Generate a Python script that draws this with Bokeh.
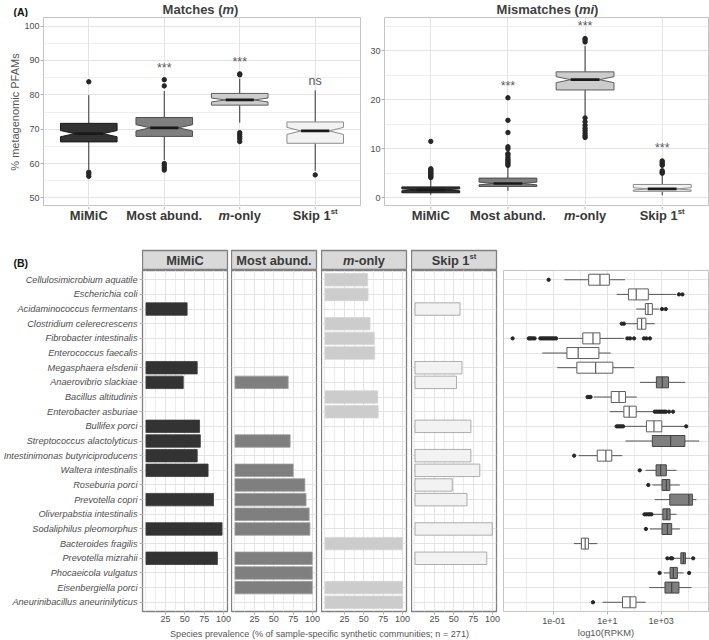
import math
from bokeh.plotting import figure
from bokeh.models import Range1d, FactorRange, FixedTicker, Spacer
from bokeh.layouts import row, column
from bokeh.core.properties import value
from bokeh.embed import file_html
from bokeh.resources import INLINE

FONT = "Liberation Sans"

# ---------------- data: panel A ----------------
methods = ["MiMiC", "Most abund.", "m-only", "Skip 1st"]

# Matches (m): % metagenomic PFAMs
match_wlo = [58.3, 61.0, 71.9, 57.9]
match_q1 = [66.3, 67.9, 77.0, 65.9]
match_med = [68.7, 70.4, 78.5, 69.5]
match_q3 = [71.7, 73.4, 80.4, 72.1]
match_whi = [79.9, 81.1, 84.7, 81.3]
match_out = [[83.8, 57.5, 57.0, 56.3],
             [82.6, 84.4, 60.0, 59.4, 58.7, 58.1],
             [85.8, 86.1, 69.0, 68.4, 67.8, 67.2, 66.4],
             [56.7]]
match_sig = ["", "***", "***", "ns"]
match_sig_y = [None, 87.9, 89.6, 83.9]

# Mismatches (mi)
mis_wlo = [0.6, 1.4, 16.8, 0.5]
mis_q1 = [1.0, 2.3, 22.0, 1.3]
mis_med = [1.6, 2.9, 24.1, 1.8]
mis_q3 = [2.2, 4.0, 25.7, 2.7]
mis_whi = [3.9, 6.4, 31.0, 4.8]
mis_out = [[4.1, 4.3, 4.5, 4.7, 4.9, 5.1, 5.3, 5.5, 5.7, 5.9, 11.5],
           [6.6, 6.9, 7.2, 7.5, 7.8, 8.2, 8.7, 9.0, 10.0, 10.4, 13.3, 15.8, 20.4],
           [31.8, 32.2, 32.5, 16.3, 15.5, 14.8, 14.2, 13.7, 13.2, 12.7, 12.3],
           [5.0, 5.2, 5.5, 6.6, 6.9, 7.2, 7.5]]
mis_sig = ["", "***", "***", "***"]
mis_sig_y = [None, 22.8, 35.0, 10.1]

NOTCH_N = 90

# ---------------- data: panel B ----------------
species = [
    "Cellulosimicrobium aquatile", "Escherichia coli", "Acidaminococcus fermentans",
    "Clostridium celerecrescens", "Fibrobacter intestinalis", "Enterococcus faecalis",
    "Megasphaera elsdenii", "Anaerovibrio slackiae", "Bacillus altitudinis",
    "Enterobacter asburiae", "Bullifex porci", "Streptococcus alactolyticus",
    "Intestinimonas butyriciproducens", "Waltera intestinalis", "Roseburia porci",
    "Prevotella copri", "Oliverpabstia intestinalis", "Sodaliphilus pleomorphus",
    "Bacteroides fragilis", "Prevotella mizrahii", "Phocaeicola vulgatus",
    "Eisenbergiella porci", "Aneurinibacillus aneurinilyticus",
]

mimic_species = ["Acidaminococcus fermentans", "Megasphaera elsdenii", "Anaerovibrio slackiae",
                 "Bullifex porci", "Streptococcus alactolyticus", "Intestinimonas butyriciproducens",
                 "Waltera intestinalis", "Prevotella copri", "Sodaliphilus pleomorphus",
                 "Prevotella mizrahii"]
mimic_prev = [53, 66, 48, 69, 70, 66, 80, 87, 98, 92]

abund_species = ["Anaerovibrio slackiae", "Streptococcus alactolyticus", "Waltera intestinalis",
                 "Roseburia porci", "Prevotella copri", "Oliverpabstia intestinalis",
                 "Sodaliphilus pleomorphus", "Prevotella mizrahii", "Phocaeicola vulgatus",
                 "Eisenbergiella porci"]
abund_prev = [68.5, 71, 75, 90, 91.5, 95.5, 96.5, 99.5, 99.5, 99.5]

monly_species = ["Cellulosimicrobium aquatile", "Escherichia coli", "Clostridium celerecrescens",
                 "Fibrobacter intestinalis", "Enterococcus faecalis", "Bacillus altitudinis",
                 "Enterobacter asburiae", "Bacteroides fragilis", "Eisenbergiella porci",
                 "Aneurinibacillus aneurinilyticus"]
monly_prev = [55, 55.5, 58, 63.5, 64, 68, 68.5, 100, 100, 100]

skip_species = ["Acidaminococcus fermentans", "Megasphaera elsdenii", "Anaerovibrio slackiae",
                "Bullifex porci", "Intestinimonas butyriciproducens", "Waltera intestinalis",
                "Roseburia porci", "Prevotella copri", "Sodaliphilus pleomorphus",
                "Prevotella mizrahii"]
skip_prev = [58, 60.5, 53.5, 72, 72, 83.5, 48, 67, 99.5, 92.5]

# log10(RPKM) box statistics per species (same order as `species`)
rpkm_wlo = [-0.60, 1.34, 2.07, 1.67, -0.81, -1.43, -0.87, 2.21, 0.49, 1.09, 1.61, 1.67,
            -0.07, 2.42, 2.67, 2.76, 2.73, 2.58, -0.25, 3.48, 3.10, 2.55, 0.82]
rpkm_q1 = [0.30, 1.78, 2.41, 2.11, 0.08, -0.51, -0.14, 2.82, 1.14, 1.61, 2.45, 2.67,
           0.62, 2.81, 3.03, 3.32, 3.06, 3.03, 0.03, 3.73, 3.33, 3.14, 1.56]
rpkm_med = [0.72, 2.07, 2.51, 2.27, 0.46, -0.09, 0.56, 3.04, 1.43, 1.81, 2.73, 3.35,
            0.94, 2.98, 3.19, 4.03, 3.21, 3.23, 0.17, 3.83, 3.45, 3.39, 1.84]
rpkm_q3 = [1.07, 2.52, 2.67, 2.43, 0.72, 0.68, 1.20, 3.27, 1.67, 2.07, 3.02, 3.88,
           1.16, 3.19, 3.32, 4.16, 3.33, 3.39, 0.29, 3.90, 3.60, 3.66, 2.06]
rpkm_whi = [1.65, 3.55, 2.92, 2.76, 1.61, 1.12, 1.99, 3.89, 2.09, 2.73, 3.89, 4.41,
            1.55, 3.57, 3.69, 4.31, 3.57, 3.70, 0.62, 4.10, 3.83, 4.13, 2.42]
rpkm_out = [
    [-1.19],
    [3.66, 3.79],
    [3.03, 3.17],
    [1.53, 1.61],
    [-2.53, -1.93, -1.88, -1.83, -1.77, -1.71, -1.50, -1.45, -1.39, -1.33, -1.27, -1.21,
     -1.15, -1.09, -1.03, -0.97, -0.91, 1.74, 1.84, 1.99, 2.36, 2.45, 2.58],
    [],
    [],
    [],
    [0.26, 0.32, 0.37],
    [2.76, 2.82, 2.88, 2.94, 3.00, 3.06, 3.12, 3.17, 3.29, 3.44],
    [1.34, 1.40, 1.46, 1.52, 1.58, 3.93],
    [],
    [-0.24],
    [2.20],
    [2.52],
    [],
    [2.38, 2.45, 2.52, 2.58, 2.64],
    [2.43],
    [],
    [3.23, 3.36, 3.41, 4.19],
    [2.94, 4.04],
    [],
    [0.46],
]
rpkm_ticks = [-1, 1, 3]
rpkm_tick_labels = ["1e-01", "1e+1", "1e+03"]

# ---------------- styles ----------------
FILLS = ["#333333", "#7f7f7f", "#cccccc", "#f2f2f2"]
BOX_LINES = ["#1a1a1a", "#4d4d4d", "#5e5e5e", "#8c8c8c"]
BAR_LINES = ["#3a3a3a", "#9a9a9a", "#d4d4d4", "#9a9a9a"]
TXT = "#4d4d4d"

BOLD_W = {"M": .833, "a": .556, "t": .333, "c": .556, "h": .611, "e": .556, "s": .556,
          " ": .278, "(": .333, ")": .333, "i": .278, "m": .889, "o": .611, "n": .611,
          "l": .278, "y": .556, "-": .333, "S": .667, "k": .556, "p": .611, "1": .556,
          "C": .722, "b": .611, "u": .611, "d": .611, ".": .278}


def tw(s, size):
    return sum(BOLD_W.get(ch, .556) for ch in s) * size


def rich(p, x, y, pieces, size, color):
    """Centered multi-style text; pieces: (text, style, scale, raise_in_y_units)."""
    total = sum(tw(t, size * sc) for t, st, sc, r in pieces)
    off = -total / 2.0
    for t, st, sc, r in pieces:
        p.text(x=[x], y=[y + r], text=[t], x_offset=off, text_font=value(FONT),
               text_font_size=value(f"{size * sc:.2f}px"), text_font_style=value(st),
               text_align="left", text_baseline="middle", text_color=color)
        off += tw(t, size * sc)


def plain_fig(w, h, xr=None, yr=None, left=0, right=0, top=0, bottom=0, bg=None):
    p = figure(frame_width=w, frame_height=h, min_border_left=left, min_border_right=right,
               min_border_top=top, min_border_bottom=bottom,
               x_range=xr if xr is not None else Range1d(0, w),
               y_range=yr if yr is not None else Range1d(0, h),
               x_axis_location=None, y_axis_location=None,
               output_backend="svg", toolbar_location=None)
    p.grid.visible = False
    p.outline_line_color = None
    p.background_fill_color = bg
    p.border_fill_color = None
    return p


method_pieces = [
    [("MiMiC", "bold", 1, 0)],
    [("Most abund.", "bold", 1, 0)],
    [("m", "bold italic", 1, 0), ("-only", "bold", 1, 0)],
    [("Skip 1", "bold", 1, 0), ("st", "bold", 0.6, 3.9)],
]


def style_axes(p):
    p.axis.axis_line_color = None
    p.axis.major_tick_line_color = "#b3b3b3"
    p.axis.major_tick_out = 3
    p.axis.major_tick_in = 0
    p.axis.minor_tick_out = 0
    p.axis.minor_tick_in = 0
    p.axis.major_label_text_font = FONT
    p.axis.major_label_text_font_size = "9px"
    p.axis.major_label_text_color = TXT
    p.axis.axis_label_text_font = FONT
    p.axis.axis_label_text_font_style = "normal"
    p.axis.axis_label_text_color = "#555555"
    p.grid.grid_line_color = "#e3e3e3"
    p.grid.grid_line_width = 1
    p.background_fill_color = "white"
    p.border_fill_color = "white"


A_FH = 189


def a_panel(wlo, q1, med, q3, whi, outs, sig, sig_y, yr, yticks, yminor,
            left, right, fw, ylabel=None):
    p = figure(frame_width=fw, frame_height=A_FH, min_border_left=left, min_border_right=right,
               min_border_top=0, min_border_bottom=0, x_range=Range1d(0.4, 4.6),
               y_range=Range1d(*yr), x_axis_location=None,
               output_backend="svg", toolbar_location=None)
    style_axes(p)
    p.outline_line_color = "#c4c4c4"
    p.outline_line_width = 1
    p.xgrid.ticker = FixedTicker(ticks=[1, 2, 3, 4])
    p.xgrid.grid_line_color = "#e3e3e3"
    p.yaxis.ticker = FixedTicker(ticks=yticks, minor_ticks=yminor)
    p.yaxis.major_label_standoff = 1
    p.ygrid.minor_grid_line_color = "#eeeeee"
    if ylabel:
        p.yaxis.axis_label = ylabel
        p.yaxis.axis_label_text_font_size = "11px"
        p.yaxis.axis_label_standoff = 0

    pos = [1, 2, 3, 4]
    bw = 0.375
    nw = bw * 0.5
    xs, ys = [], []
    for c, a, b, m in zip(pos, q1, q3, med):
        nh = 1.58 * (b - a) / math.sqrt(NOTCH_N)
        xs.append([c - bw, c - bw, c - nw, c - bw, c - bw, c + bw, c + bw, c + nw, c + bw, c + bw])
        ys.append([a, m - nh, m, m + nh, b, b, m + nh, m, m - nh, a])
    p.segment(x0=pos, y0=q3, x1=pos, y1=whi, line_color="#333333", line_width=1)
    p.segment(x0=pos, y0=q1, x1=pos, y1=wlo, line_color="#333333", line_width=1)
    p.patches(xs=xs, ys=ys, fill_color=FILLS, line_color=BOX_LINES, line_width=1)
    p.segment(x0=[c - nw for c in pos], y0=med, x1=[c + nw for c in pos], y1=med,
              line_color="#1a1a1a", line_width=2.7)
    ox = [c for c, o in zip(pos, outs) for _ in o]
    oy = [v for o in outs for v in o]
    p.scatter(x=ox, y=oy, size=4.4, color="#262626")

    sx = [c for c, s in zip(pos, sig) if s]
    st = [s for s in sig if s]
    sy = [y for s, y in zip(sig, sig_y) if s]
    p.text(x=sx, y=sy, text=st, text_font=value(FONT), text_font_size=value("12.5px"),
           text_align="center", text_baseline="middle", text_color="#595959")
    return p


# ---- panel A layout: left 0-366 (frame 43-360), right 366-709 (frame 384-708)
pA1 = a_panel(match_wlo, match_q1, match_med, match_q3, match_whi, match_out,
              match_sig, match_sig_y, (47.5, 102.5), [50, 60, 70, 80, 90, 100],
              [55, 65, 75, 85, 95], 43, 6, 317, ylabel="% metagenomic PFAMs")
pA2 = a_panel(mis_wlo, mis_q1, mis_med, mis_q3, mis_whi, mis_out,
              mis_sig, mis_sig_y, (-1.8, 36.8), [0, 10, 20, 30], [5, 15, 25, 35],
              18, 1, 324)

hA1 = plain_fig(366, 17)
hA1.text(x=[13], y=[6], text=["(A)"], text_font=value(FONT), text_font_size=value("10.5px"),
         text_font_style=value("bold"), text_align="left", text_baseline="middle",
         text_color="#111111")
rich(hA1, 200, 8.3, [("Matches (", "bold", 1, 0), ("m", "bold italic", 1, 0), (")", "bold", 1, 0)],
     13, "#404040")
hA2 = plain_fig(343, 17)
rich(hA2, 181, 8.3, [("Mismatches (", "bold", 1, 0), ("mi", "bold italic", 1, 0), (")", "bold", 1, 0)],
     13, "#404040")

LA_H = 24
lA1 = plain_fig(317, LA_H, xr=pA1.x_range, left=43, right=6)
lA2 = plain_fig(324, LA_H, xr=pA2.x_range, left=18, right=1)
for lf in (lA1, lA2):
    # axis tick marks below the panel, at the category positions
    lf.segment(x0=[1, 2, 3, 4], y0=LA_H, x1=[1, 2, 3, 4], y1=LA_H - 3,
               line_color="#b3b3b3", line_width=1)
    for c, pcs in zip([1, 2, 3, 4], method_pieces):
        rich(lf, c, 14.7, pcs, 12.9, "#383838")

# ---------------- panel B ----------------
yr_sp = FactorRange(factors=list(reversed(species)), range_padding=0.13,
                    range_padding_units="absolute")

facet_species = [mimic_species, abund_species, monly_species, skip_species]
facet_vals = [mimic_prev, abund_prev, monly_prev, skip_prev]
lefts = [142, 0, 0, 0]
rights = [4, 5, 5, 7]
FW = 85
F_FH = 341

hB = plain_fig(142, 20, top=20)
hB.text(x=[13], y=[8], text=["(B)"], text_font=value(FONT), text_font_size=value("10.5px"),
        text_font_style=value("bold"), text_align="left", text_baseline="middle",
        text_color="#111111")

strips = [hB]
facets = []
for k in range(4):
    s = plain_fig(FW, 20, right=rights[k], top=20, bg="#d9d9d9")
    s.outline_line_color = "#808080"
    s.outline_line_width = 1.3
    rich(s, FW / 2.0, 10, method_pieces[k], 12.8, "#3a3a3a")
    strips.append(s)

    f = figure(frame_width=FW, frame_height=F_FH, min_border_left=lefts[k],
               min_border_right=rights[k], min_border_top=0, min_border_bottom=15,
               x_range=Range1d(-4.5, 105), y_range=yr_sp,
               y_axis_location="left" if k == 0 else None,
               output_backend="svg", toolbar_location=None)
    style_axes(f)
    f.outline_line_color = "#808080"
    f.outline_line_width = 1.3
    f.xaxis.ticker = FixedTicker(ticks=[25, 50, 75, 100], minor_ticks=[0, 12.5, 37.5, 62.5, 87.5])
    f.xaxis.major_label_standoff = 1
    f.xgrid.minor_grid_line_color = "#ececec"
    if k == 0:
        f.yaxis.major_label_text_font_style = "italic"
        f.yaxis.major_label_text_font_size = "9.2px"
        f.yaxis.major_label_standoff = 2
    f.hbar(y=facet_species[k], left=0, right=facet_vals[k], height=0.85,
           fill_color=FILLS[k], line_color=BAR_LINES[k], line_width=0.8)
    facets.append(f)

bottom = plain_fig(503, 14)
bottom.text(x=[319], y=[6.8], text=["Species prevalence (% of sample-specific synthetic communities; n = 271)"],
            text_font=value(FONT), text_font_size=value("9.1px"), text_align="center",
            text_baseline="middle", text_color="#555555")

# right box panel (frame 503-708)
r = figure(frame_width=205, frame_height=F_FH, min_border_left=0, min_border_right=1,
           min_border_top=0, min_border_bottom=29, x_range=Range1d(-2.87, 4.76),
           y_range=yr_sp, y_axis_location=None, output_backend="svg", toolbar_location=None)
style_axes(r)
r.outline_line_color = "#c4c4c4"
r.outline_line_width = 1
r.xaxis.ticker = FixedTicker(ticks=rpkm_ticks, minor_ticks=[-2, 0, 2, 4])
r.xaxis.major_label_overrides = dict(zip(rpkm_ticks, rpkm_tick_labels))
r.xaxis.major_label_standoff = 3
r.xaxis.axis_label = "log10(RPKM)"
r.xaxis.axis_label_text_font_size = "9.4px"
r.xaxis.axis_label_standoff = 0
r.xgrid.minor_grid_line_color = "#ececec"

box_fill = ["#7f7f7f" if s in abund_species else "white" for s in species]
box_line = ["#444444" if s in abund_species else "#5e5e5e" for s in species]
r.segment(x0=rpkm_wlo, y0=species, x1=rpkm_q1, y1=species, line_color="#555555", line_width=1)
r.segment(x0=rpkm_q3, y0=species, x1=rpkm_whi, y1=species, line_color="#555555", line_width=1)
r.hbar(y=species, left=rpkm_q1, right=rpkm_q3, height=0.75, fill_color=box_fill,
       line_color=box_line, line_width=1)
r.hbar(y=species, left=rpkm_med, right=rpkm_med, height=0.75, fill_color=None,
       line_color=box_line, line_width=1.2)
ox = [v for o in rpkm_out for v in o]
oy = [s for s, o in zip(species, rpkm_out) for _ in o]
r.scatter(x=ox, y=oy, size=3.3, color="#262626")

a_block = column(row(hA1, hA2), row(pA1, pA2), row(lA1, lA2))
b_left = column(row(*strips), row(*facets), bottom)
b_right = column(Spacer(width=206, height=40), r)
root = column(a_block, row(b_left, b_right))

open("out.html", "w").write(file_html(root, INLINE))
